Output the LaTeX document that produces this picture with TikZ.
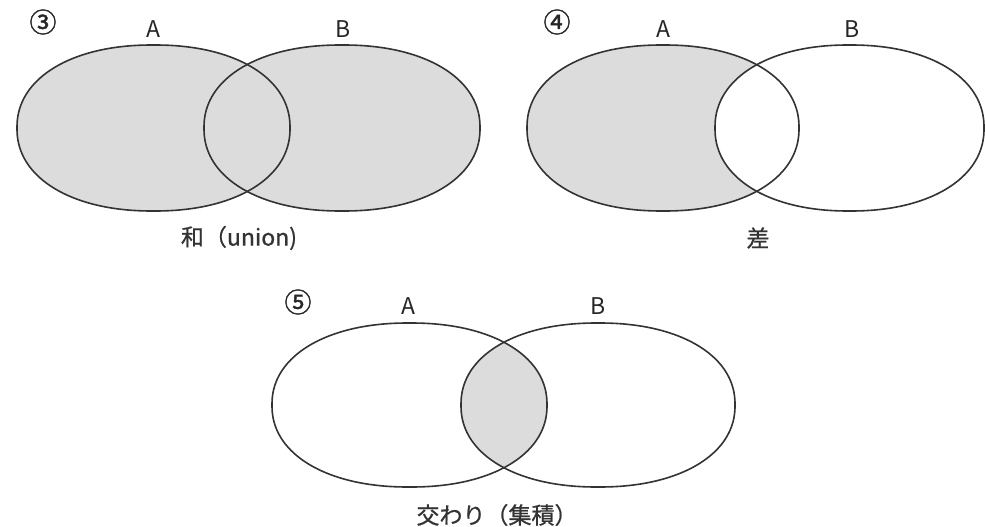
\documentclass[tikz,border=0pt]{standalone}
\usepackage{fontspec}
\setmainfont{Noto Sans CJK JP}
\newfontfamily\capfont[FakeBold=0.8]{Noto Sans CJK JP}
\newfontfamily\numfont[FakeBold=1.5]{Noto Sans CJK JP}
\definecolor{setfill}{HTML}{DCDCDC}
\definecolor{setline}{HTML}{333333}
% superellipse: centre x, centre y, x radius, y radius
\newcommand{\sellpath}[4]{plot[domain=0:358, samples=180, smooth cycle, variable=\t]
  ({#1+#3*sign(cos(\t))*pow(abs(cos(\t))+0.000001,0.92)},
   {#2+#4*sign(sin(\t))*pow(abs(sin(\t))+0.000001,0.92)})}
\tikzset{
  x=1pt, y=-1pt,
  setoutline/.style={draw=setline, line width=1.6pt},
  lbl/.style={font=\fontsize{23}{23}\selectfont, text=black!85, inner sep=0pt},
  numlbl/.style={font=\numfont\fontsize{27}{27}\selectfont, text=black!85, inner sep=0pt},
  caption/.style={font=\capfont\fontsize{23}{23}\selectfont, text=black!80, inner sep=0pt},
}
\begin{document}
\begin{tikzpicture}
\useasboundingbox (0,0) rectangle (985,527);
% ---------- (3) union ----------
\fill[setfill] \sellpath{153.5}{128}{136.5}{83};
\fill[setfill] \sellpath{342}{128}{138}{83};
\draw[setoutline] \sellpath{153.5}{128}{136.5}{83};
\draw[setoutline] \sellpath{342}{128}{138}{83};
\node[numlbl] (n3) at (43,22) {③};
\node[lbl] (a3) at (153,29) {A};
\node[lbl] (b3) at (343,29) {B};
\node[caption] (c3) at (239,238) {和（union)};
% ---------- (4) difference ----------
\fill[setfill] \sellpath{663}{128}{136}{83};
\fill[white] \sellpath{849.5}{128}{135}{83};
\draw[setoutline] \sellpath{663}{128}{136}{83};
\draw[setoutline] \sellpath{849.5}{128}{134.5}{83};
\node[numlbl] (n4) at (557,22) {④};
\node[lbl] (a4) at (663,29) {A};
\node[lbl] (b4) at (852,29) {B};
\node[caption] (c4) at (758,238) {差};
% ---------- (5) intersection ----------
\begin{scope}
  \clip \sellpath{409.5}{405}{137.5}{82};
  \fill[setfill] \sellpath{598}{405}{137}{82};
\end{scope}
\draw[setoutline] \sellpath{409.5}{405}{137.5}{82};
\draw[setoutline] \sellpath{598}{405}{137}{82};
\node[numlbl] (n5) at (298,302) {⑤};
\node[lbl] (a5) at (408,306) {A};
\node[lbl] (b5) at (598,306) {B};
\node[caption] (c5) at (497,515) {交わり（集積）};
\end{tikzpicture}
\end{document}
